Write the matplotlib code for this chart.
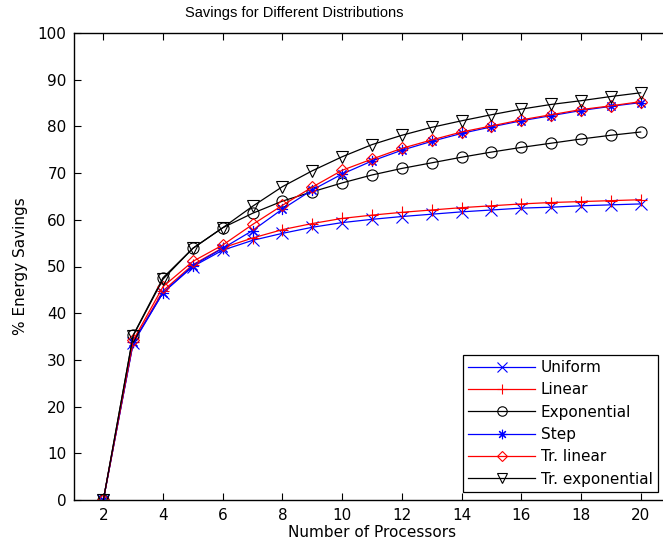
import numpy as np
import matplotlib
matplotlib.use("Agg")
import matplotlib.pyplot as plt

plt.rcParams['font.family'] = ['DejaVu Sans']

procs = list(range(2, 21))

uniform = [0, 33.6, 44.4, 50.0, 53.5, 55.6, 57.1, 58.4, 59.4, 60.1, 60.7, 61.2, 61.7, 62.1, 62.5, 62.7, 63.0, 63.2, 63.4]
linear = [0, 33.8, 44.8, 50.4, 54.0, 56.1, 57.9, 59.2, 60.3, 61.0, 61.6, 62.1, 62.6, 63.0, 63.4, 63.7, 63.9, 64.1, 64.3]
exponential = [0, 35.3, 47.6, 53.9, 58.3, 61.4, 64.0, 66.0, 67.9, 69.6, 71.0, 72.2, 73.4, 74.5, 75.5, 76.4, 77.3, 78.1, 78.8]
step = [0, 33.8, 44.4, 50.2, 53.9, 57.7, 62.3, 66.4, 69.8, 72.6, 74.9, 76.8, 78.5, 79.9, 81.2, 82.3, 83.4, 84.3, 85.1]
tr_linear = [0, 34.2, 45.7, 51.1, 54.6, 59.0, 63.1, 67.0, 70.6, 73.0, 75.3, 77.1, 78.8, 80.1, 81.4, 82.5, 83.6, 84.4, 85.3]
tr_exponential = [0, 35.2, 47.3, 53.9, 58.3, 62.9, 67.1, 70.5, 73.5, 76.1, 78.1, 79.8, 81.2, 82.5, 83.7, 84.7, 85.5, 86.4, 87.2]

# matlab style asterisk = plus + cross
asterisk = (8, 2, 0)

series = [
    ("Uniform", uniform, 'blue', 'x'),
    ("Linear", linear, 'red', '+'),
    ("Exponential", exponential, 'black', 'o'),
    ("Step", step, 'blue', asterisk),
    ("Tr. linear", tr_linear, 'red', 'D'),
    ("Tr. exponential", tr_exponential, 'black', 'v'),
]

fig = plt.figure(figsize=(6.63, 5.53), dpi=100)
# axes run past the right edge of the figure, as in the reference
ax = fig.add_axes([73.5/663, 53/553, 597/663, 467/553])

for label, vals, col, mk in series:
    ms = 6.5 if mk == 'D' else 8
    ax.plot(procs, vals, color=col, marker=mk, markersize=ms, markerfacecolor='none',
            markeredgecolor=col, markeredgewidth=0.8, linewidth=0.9, label=label)

ax.set_xlim(1, 21)
ax.set_ylim(0, 100)
ax.set_xticks(range(2, 21, 2))
ax.set_yticks(range(0, 101, 10))
ax.tick_params(direction='in', length=5, width=0.8, top=True, right=True, labelsize=11)
ax.tick_params(axis='x', pad=6)
ax.tick_params(axis='y', pad=5)
for s in ax.spines.values():
    s.set_linewidth(1.0)

fig.text(294/663, 1 - 13/553, "Savings for Different Distributions", fontsize=10.5,
         family='Liberation Sans', ha='center', va='center')
ax.set_xlabel("Number of Processors", fontsize=11, labelpad=1)
ax.set_ylabel("% Energy Savings", fontsize=11, labelpad=7)

leg = ax.legend(loc='lower right', bbox_to_anchor=(658/663, 1 - 492/553), bbox_transform=fig.transFigure,
                borderaxespad=0, fancybox=False, framealpha=1, edgecolor='black', fontsize=11,
                handlelength=4.4, labelspacing=0.48, borderpad=0.35, handletextpad=0.35, numpoints=1,
                markerscale=0.85)
leg.get_frame().set_linewidth(0.9)

plt.savefig("out.png", dpi=100)
